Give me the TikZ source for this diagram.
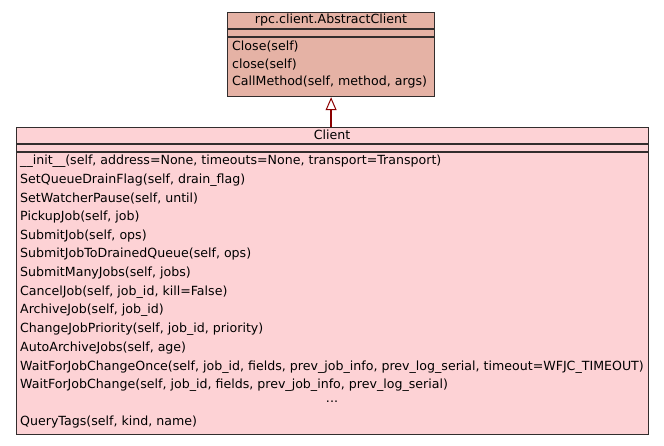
\documentclass[tikz,border=0pt]{standalone}
\usepackage{fontspec}
\setmainfont{DejaVu Sans}
\usetikzlibrary{arrows.meta}
\definecolor{absfill}{RGB}{229,178,165}
\definecolor{clifill}{RGB}{253,210,213}
\definecolor{boxline}{RGB}{50,45,45}
\definecolor{inh}{RGB}{139,0,0}
\begin{document}
\begin{tikzpicture}[x=1pt,y=-1pt,
  umlbox/.style={draw=boxline, line width=1.2pt, anchor=north west, inner sep=0pt},
  meth/.style={anchor=west, inner sep=0pt, font=\fontsize{12.6}{14}\selectfont},
  ttl/.style={anchor=center, inner sep=0pt, font=\fontsize{12.6}{14}\selectfont},
  sep/.style={draw=boxline, line width=1.2pt}]
\useasboundingbox (0,0) rectangle (664,445);
% abstract client
\node[umlbox, fill=absfill, minimum width=207pt, minimum height=84pt] (abs) at (227,12) {};
\node[ttl] (absname) at (331,20.5) {rpc.client.AbstractClient};
\draw[sep] (227,29) -- (434,29);
\draw[sep] (227,37) -- (434,37);
\node[meth] (a1) at (232,46.5) {Close(self)};
\node[meth] (a2) at (232,64.5) {close(self)};
\node[meth] (a3) at (232,82.5) {CallMethod(self, method, args)};
% client
\node[umlbox, fill=clifill, minimum width=632pt, minimum height=307pt] (cli) at (16,127) {};
\node[ttl] (cliname) at (332,134.5) {Client};
\draw[sep] (16,144) -- (648,144);
\draw[sep] (16,152) -- (648,152);
\node[meth] (m1) at (20,161) {\_\_init\_\_(self, address=None, timeouts=None, transport=Transport)};
\node[meth] (m2) at (20,179.7) {SetQueueDrainFlag(self, drain\_flag)};
\node[meth] (m3) at (20,198.4) {SetWatcherPause(self, until)};
\node[meth] (m4) at (20,217.1) {PickupJob(self, job)};
\node[meth] (m5) at (20,235.8) {SubmitJob(self, ops)};
\node[meth] (m6) at (20,254.5) {SubmitJobToDrainedQueue(self, ops)};
\node[meth] (m7) at (20,273.2) {SubmitManyJobs(self, jobs)};
\node[meth] (m8) at (20,291.9) {CancelJob(self, job\_id, kill=False)};
\node[meth] (m9) at (20,310.6) {ArchiveJob(self, job\_id)};
\node[meth] (m10) at (20,329.3) {ChangeJobPriority(self, job\_id, priority)};
\node[meth] (m11) at (20,348) {AutoArchiveJobs(self, age)};
\node[meth] (m12) at (20,366.7) {WaitForJobChangeOnce(self, job\_id, fields, prev\_job\_info, prev\_log\_serial, timeout=WFJC\_TIMEOUT)};
\node[meth] (m13) at (20,385.4) {WaitForJobChange(self, job\_id, fields, prev\_job\_info, prev\_log\_serial)};
\node[ttl] (m14) at (332,402) {...};
\node[meth] (m15) at (20,422.5) {QueryTags(self, kind, name)};
% inheritance
\draw[draw=inh, line width=1.8pt, -{Triangle[open, length=13pt, width=11pt, line width=1pt, fill=white]}] (cli.north -| abs.south) coordinate (c1) -- (abs.south);
\end{tikzpicture}
\end{document}
